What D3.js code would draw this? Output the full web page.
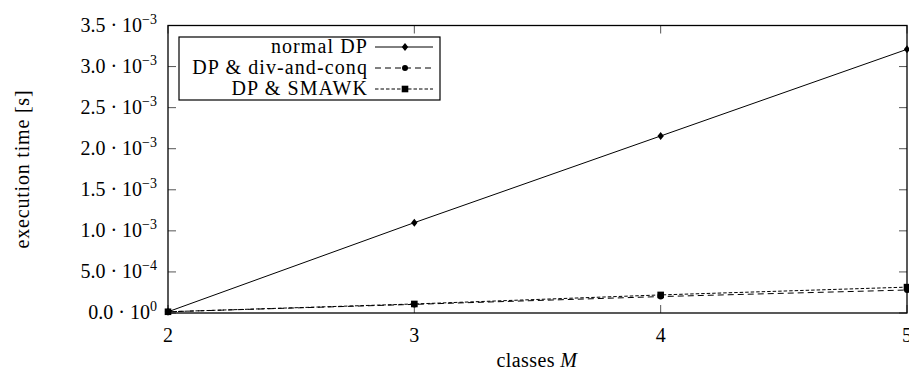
<!DOCTYPE html>
<html>
<head>
<meta charset="utf-8">
<script src="https://cdn.jsdelivr.net/npm/d3@7"></script>
<style>
  html, body { margin: 0; padding: 0; background: #fff; }
  svg text { font-family: "Liberation Serif", "DejaVu Serif", serif; fill: #000; }
</style>
</head>
<body>
<svg id="chart" width="909" height="374"></svg>
<script>
// Number of classes on the x axis
const classes = [2, 3, 4, 5];

// Execution times in seconds for each algorithm
const normalDP = [1.5e-5, 1.10e-3, 2.155e-3, 3.21e-3];
const divAndConq = [1.5e-5, 1.05e-4, 2.0e-4, 2.8e-4];
const smawk = [1.5e-5, 1.1e-4, 2.2e-4, 3.15e-4];

// Tick values and their labels
const xTicks = [2, 3, 4, 5];
const yTicks = [0, 5e-4, 1e-3, 1.5e-3, 2e-3, 2.5e-3, 3e-3, 3.5e-3];
const yTickMantissa = ["0.0", "5.0", "1.0", "1.5", "2.0", "2.5", "3.0", "3.5"];
const yTickExponent = ["0", "\u22124", "\u22123", "\u22123", "\u22123", "\u22123", "\u22123", "\u22123"];

const seriesNames = ["normal DP", "DP & div-and-conq", "DP & SMAWK"];
const seriesValues = [normalDP, divAndConq, smawk];
const seriesDash = [null, "6,4", "3.5,2"];
const seriesMarker = ["diamond", "circle", "square"];

const svg = d3.select("#chart");
const plotL = 168, plotR = 907, plotT = 25.5, plotB = 313;

const x = d3.scaleLinear().domain([2, 5]).range([plotL, plotR]);
const y = d3.scaleLinear().domain([0, 3.5e-3]).range([plotB, plotT]);

const tickLen = 8;
const tickColor = "#555";

// Inward ticks on all four sides
const g = svg.append("g");
xTicks.forEach(t => {
  g.append("line").attr("x1", x(t)).attr("x2", x(t)).attr("y1", plotB).attr("y2", plotB - tickLen)
    .attr("stroke", tickColor).attr("stroke-width", 1);
  g.append("line").attr("x1", x(t)).attr("x2", x(t)).attr("y1", plotT).attr("y2", plotT + tickLen)
    .attr("stroke", tickColor).attr("stroke-width", 1);
});
yTicks.forEach(t => {
  g.append("line").attr("x1", plotL).attr("x2", plotL + tickLen).attr("y1", y(t)).attr("y2", y(t))
    .attr("stroke", tickColor).attr("stroke-width", 1);
  g.append("line").attr("x1", plotR).attr("x2", plotR - tickLen).attr("y1", y(t)).attr("y2", y(t))
    .attr("stroke", tickColor).attr("stroke-width", 1);
});

// Series lines
const line = d3.line().x((d, i) => x(classes[i])).y(d => y(d));
seriesValues.forEach((vals, si) => {
  svg.append("path").datum(vals)
    .attr("d", line)
    .attr("fill", "none")
    .attr("stroke", "#000")
    .attr("stroke-width", 1)
    .attr("stroke-dasharray", seriesDash[si]);
});

// Markers
function drawMarker(sel, type, cx, cy) {
  if (type === "diamond") {
    sel.append("path").attr("d", `M${cx},${cy - 4}L${cx + 3.2},${cy}L${cx},${cy + 4}L${cx - 3.2},${cy}Z`).attr("fill", "#000");
  } else if (type === "circle") {
    sel.append("circle").attr("cx", cx).attr("cy", cy).attr("r", 3).attr("fill", "#000");
  } else {
    sel.append("rect").attr("x", cx - 3.3).attr("y", cy - 3.3).attr("width", 6.6).attr("height", 6.6).attr("fill", "#000");
  }
}
seriesValues.forEach((vals, si) => {
  vals.forEach((v, i) => drawMarker(svg, seriesMarker[si], x(classes[i]), y(v)));
});

// Axis frame
svg.append("rect").attr("x", plotL).attr("y", plotT).attr("width", plotR - plotL).attr("height", plotB - plotT)
  .attr("fill", "none").attr("stroke", "#000").attr("stroke-width", 1.3);

// Y tick labels (mantissa · 10^exponent)
yTicks.forEach((t, i) => {
  const txt = svg.append("text").attr("x", 157).attr("y", y(t) + 6)
    .attr("text-anchor", "end").attr("font-size", 20);
  txt.append("tspan").text(yTickMantissa[i]);
  txt.append("tspan").attr("dx", 5).text("\u00B7");
  txt.append("tspan").attr("dx", 5).text("10");
  txt.append("tspan").attr("dy", -8).attr("font-size", 14).text(yTickExponent[i]);
});

// X tick labels
xTicks.forEach(t => {
  svg.append("text").attr("x", x(t)).attr("y", 342).attr("text-anchor", "middle")
    .attr("font-size", 20).text(t);
});

// Axis titles
const xl = svg.append("text").attr("x", 537).attr("y", 367).attr("text-anchor", "middle")
  .attr("font-size", 20).attr("letter-spacing", 0.4);
xl.append("tspan").text("classes ");
xl.append("tspan").attr("font-style", "italic").text("M");

svg.append("text").attr("transform", "translate(29,169) rotate(-90)")
  .attr("text-anchor", "middle").attr("font-size", 20).attr("letter-spacing", 0.8)
  .text("execution time [s]");

// Legend
const lg = svg.append("g");
const lgLeft = 179, lgRight = 440, lgTop = 37, rowH = 21, firstRow = 47;
lg.append("rect").attr("x", lgLeft).attr("y", lgTop).attr("width", lgRight - lgLeft)
  .attr("height", firstRow + rowH * 2 + 11 - lgTop)
  .attr("fill", "#fff").attr("stroke", "#000").attr("stroke-width", 1.2);
seriesNames.forEach((name, i) => {
  const cy = firstRow + i * rowH;
  lg.append("text").attr("x", 368).attr("y", cy + 6).attr("text-anchor", "end")
    .attr("font-size", 20).attr("letter-spacing", 1.1).text(name);
  lg.append("line").attr("x1", 375).attr("x2", 433).attr("y1", cy).attr("y2", cy)
    .attr("stroke", "#000").attr("stroke-width", 1).attr("stroke-dasharray", seriesDash[i]);
  drawMarker(lg, seriesMarker[i], 405, cy);
});
</script>
</body>
</html>
